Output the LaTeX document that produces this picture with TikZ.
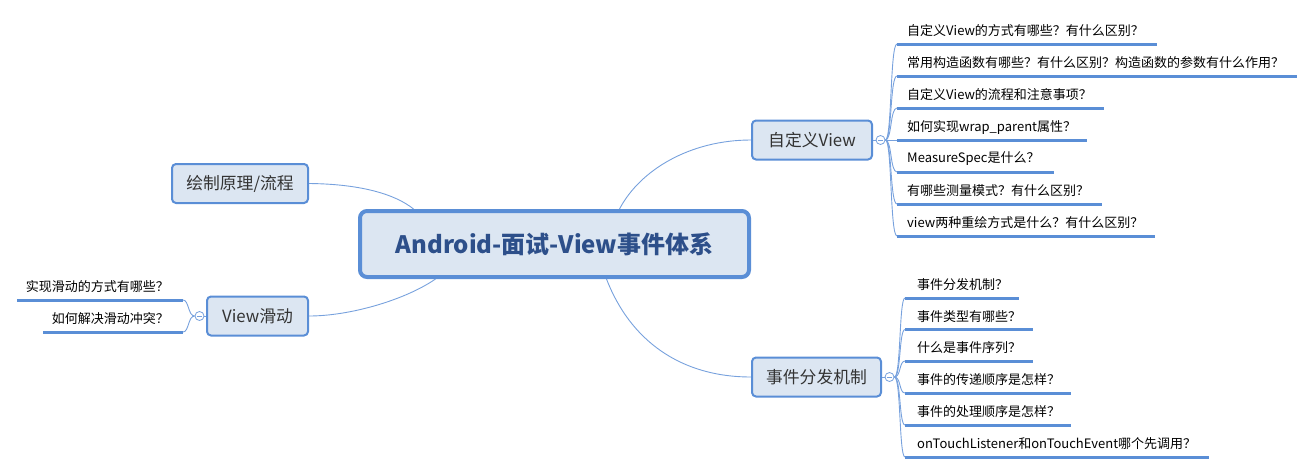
\documentclass[tikz,border=0pt]{standalone}
\usepackage{fontspec}
\setmainfont{Noto Sans CJK SC}
\usepackage{tikz}
\usetikzlibrary{backgrounds}

\definecolor{mapblue}{HTML}{5A8ED6}
\definecolor{mapfill}{HTML}{DCE6F2}
\definecolor{linkblue}{HTML}{77A1DD}
\definecolor{roottext}{HTML}{2D4F8A}
\definecolor{topictext}{HTML}{333333}

\tikzset{
  root/.style={draw=mapblue, line width=4pt, fill=mapfill, rounded corners=7pt,
    minimum width=389pt, minimum height=66pt, text=roottext,
    font=\fontsize{24}{28}\selectfont\bfseries},
  topic/.style={draw=mapblue, line width=2pt, fill=mapfill, rounded corners=4pt,
    minimum height=39pt, text=topictext, font=\fontsize{16.8}{20}\selectfont},
  leaf/.style={inner sep=0pt, text=black, font=\fontsize{13}{15}\selectfont},
  uline/.style={draw=mapblue, line width=3pt},
  link/.style={draw=linkblue, line width=0.9pt},
  fold/.style={circle, draw=linkblue, fill=white, line width=0.8pt,
    minimum size=9pt, inner sep=0pt},
}

\begin{document}
\begin{tikzpicture}[x=1pt, y=-1pt]
\useasboundingbox (0,0) rectangle (1314,474);

\node[root] (main) at (554.5,244) {Android-面试-View事件体系};
\node[topic, minimum width=120pt] (cv) at (812,140) {自定义View};
\node[topic, minimum width=129pt] (ev) at (816.5,377) {事件分发机制};
\node[topic, minimum width=136pt] (draw) at (240,183.5) {绘制原理/流程};
\node[topic, minimum width=101pt] (sl) at (257.5,316) {View滑动};

% links from the central topic
\begin{scope}[on background layer]
\draw[link] ([xshift=-141pt]main.north) .. controls (395,194) and (360,184) .. (draw.east);
\draw[link] ([xshift=65pt]main.north) .. controls (640,170) and (690,140) .. (cv.west);
\draw[link] ([xshift=-119pt]main.south) .. controls (405,300) and (350,316) .. (sl.east);
\draw[link] ([xshift=52pt]main.south) .. controls (630,340) and (680,377) .. (ev.west);
\end{scope}

% 自定义View
\node[fold] (fa) at (880.5,140) {};
\draw[link] (cv.east) -- (fa.west);
\draw[link] ([xshift=-2.5pt]fa.center) -- ([xshift=2.5pt]fa.center);
\coordinate (a1) at (897,44);
\coordinate (a2) at (897,76);
\coordinate (a3) at (897,108);
\coordinate (a4) at (897,140);
\coordinate (a5) at (897,172);
\coordinate (a6) at (897,204);
\coordinate (a7) at (897,236);
\draw[uline] (a1) -- (1157,44);
\draw[uline] (a2) -- (1297,76);
\draw[uline] (a3) -- (1104,108);
\draw[uline] (a4) -- (1087,140);
\draw[uline] (a5) -- (1054,172);
\draw[uline] (a6) -- (1102,204);
\draw[uline] (a7) -- (1155,236);
\draw[link] (fa.east) .. controls (892,140) and (890,44) .. (a1);
\draw[link] (fa.east) .. controls (892,140) and (890,76) .. (a2);
\draw[link] (fa.east) .. controls (892,140) and (890,108) .. (a3);
\draw[link] (fa.east) -- (a4);
\draw[link] (fa.east) .. controls (892,140) and (890,172) .. (a5);
\draw[link] (fa.east) .. controls (892,140) and (890,204) .. (a6);
\draw[link] (fa.east) .. controls (892,140) and (890,236) .. (a7);
\node[leaf, anchor=west] (l1) at (907,31) {自定义View的方式有哪些？有什么区别？};
\node[leaf, anchor=west] (l2) at (907,63) {常用构造函数有哪些？有什么区别？构造函数的参数有什么作用？};
\node[leaf, anchor=west] (l3) at (907,95) {自定义View的流程和注意事项？};
\node[leaf, anchor=west] (l4) at (907,127) {如何实现wrap\_parent属性？};
\node[leaf, anchor=west] (l5) at (907,159) {MeasureSpec是什么？};
\node[leaf, anchor=west] (l6) at (907,191) {有哪些测量模式？有什么区别？};
\node[leaf, anchor=west] (l7) at (907,223) {view两种重绘方式是什么？有什么区别？};

% 事件分发机制
\node[fold] (fb) at (889.5,377) {};
\draw[link] (ev.east) -- (fb.west);
\draw[link] ([xshift=-2.5pt]fb.center) -- ([xshift=2.5pt]fb.center);
\coordinate (b1) at (905,298);
\coordinate (b2) at (905,329.5);
\coordinate (b3) at (905,361);
\coordinate (b4) at (905,393);
\coordinate (b5) at (905,425);
\coordinate (b6) at (905,457);
\draw[uline] (b1) -- (1019,298);
\draw[uline] (b2) -- (1033,329.5);
\draw[uline] (b3) -- (1033,361);
\draw[uline] (b4) -- (1071,393);
\draw[uline] (b5) -- (1071,425);
\draw[uline] (b6) -- (1209,457);
\draw[link] (fb.east) .. controls (901,377) and (899,298) .. (b1);
\draw[link] (fb.east) .. controls (901,377) and (899,329.5) .. (b2);
\draw[link] (fb.east) .. controls (901,377) and (899,361) .. (b3);
\draw[link] (fb.east) .. controls (901,377) and (899,393) .. (b4);
\draw[link] (fb.east) .. controls (901,377) and (899,425) .. (b5);
\draw[link] (fb.east) .. controls (901,377) and (899,457) .. (b6);
\node[leaf, anchor=west] (m1) at (917,285) {事件分发机制？};
\node[leaf, anchor=west] (m2) at (917,316.5) {事件类型有哪些？};
\node[leaf, anchor=west] (m3) at (917,348) {什么是事件序列？};
\node[leaf, anchor=west] (m4) at (917,380) {事件的传递顺序是怎样？};
\node[leaf, anchor=west] (m5) at (917,412) {事件的处理顺序是怎样？};
\node[leaf, anchor=west] (m6) at (917,444) {onTouchListener和onTouchEvent哪个先调用？};

% View滑动
\node[fold] (fc) at (199.5,316) {};
\draw[link] (sl.west) -- (fc.east);
\draw[link] ([xshift=-2.5pt]fc.center) -- ([xshift=2.5pt]fc.center);
\coordinate (c1) at (183,300);
\coordinate (c2) at (183,332);
\draw[uline] (17,300) -- (c1);
\draw[uline] (43,332) -- (c2);
\draw[link] (fc.west) .. controls (188,316) and (189,300) .. (c1);
\draw[link] (fc.west) .. controls (188,316) and (189,332) .. (c2);
\node[leaf, anchor=east] (n1) at (169,287) {实现滑动的方式有哪些？};
\node[leaf, anchor=east] (n2) at (169,319) {如何解决滑动冲突？};
\end{tikzpicture}
\end{document}
